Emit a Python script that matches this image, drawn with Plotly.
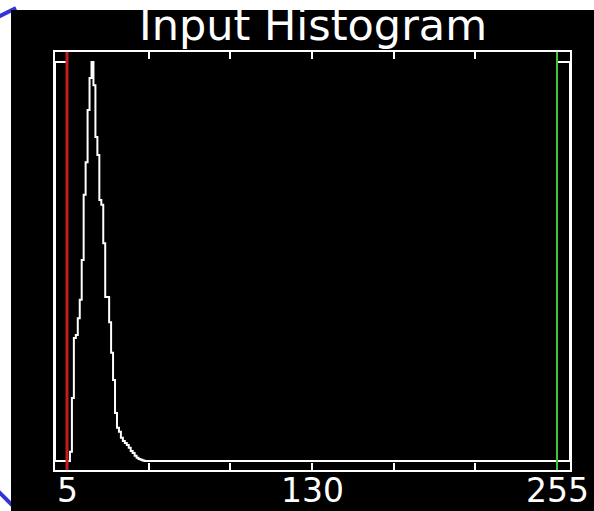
import plotly.graph_objects as go

# ---- data ----
title_text = "Input Histogram"
x_min_level = 5      # red threshold marker
x_max_level = 255    # green threshold marker
tick_values = [5, 46.67, 88.33, 130, 171.67, 213.33, 255]
tick_labels = ["5", "", "", "130", "", "", "255"]

# normalised histogram counts for grey levels 0..46 (peak = 1); remaining levels are 0
counts_low = [0, 0, 0, 0, 0, 0, 0, 0.023, 0.158, 0.308, 0.316, 0.358, 0.404, 0.504,
              0.667, 0.749, 0.880, 0.960, 1.000, 0.942, 0.812, 0.767, 0.654, 0.642,
              0.546, 0.411, 0.411, 0.348, 0.271, 0.203, 0.120, 0.083, 0.073, 0.058,
              0.050, 0.045, 0.040, 0.033, 0.025, 0.020, 0.013, 0.008, 0.005, 0.003,
              0.001, 0, 0]
levels = list(range(256))
counts = counts_low + [0] * (256 - len(counts_low))
peak = max(counts)

# ---- layout geometry ----
W, H = 594, 511
ML, MR, MT, MB = 55, 24, 52, 41
PW, PH = W - ML - MR, H - MT - MB
XR = [-1.12, 261.63]
YR = [-0.0226, 1.0251]


def px_x(p):
    return (p - ML) / PW


def px_y(p):
    return (H - MB - p) / PH


fig = go.Figure()
fig.add_trace(go.Scatter(
    x=levels, y=counts, mode="lines",
    line=dict(color="white", width=2, shape="hvh"),
    hoverinfo="skip", showlegend=False,
))

shapes = [
    # blue corner decorations (under the black panel)
    dict(type="line", xref="paper", yref="paper", layer="below",
         x0=px_x(-2), y0=px_y(17), x1=px_x(16), y1=px_y(8),
         line=dict(color="#3434d2", width=4)),
    dict(type="line", xref="paper", yref="paper", layer="below",
         x0=px_x(-2), y0=px_y(491), x1=px_x(18), y1=px_y(511),
         line=dict(color="#3434d2", width=4)),
    # black panel
    dict(type="rect", xref="paper", yref="paper", layer="below",
         x0=px_x(11), x1=px_x(620), y0=px_y(540), y1=px_y(10),
         fillcolor="black", line=dict(width=0)),
    # boxes outside thresholds
    dict(type="rect", xref="x", yref="y", layer="above",
         x0=XR[0], x1=x_min_level, y0=0, y1=peak,
         line=dict(color="white", width=2)),
    dict(type="rect", xref="x", yref="y", layer="above",
         x0=x_max_level, x1=XR[1], y0=0, y1=peak,
         line=dict(color="white", width=2)),
    # threshold markers
    dict(type="line", xref="x", yref="paper", layer="above",
         x0=x_min_level, x1=x_min_level, y0=0, y1=1,
         line=dict(color="#c41c1c", width=3)),
    dict(type="line", xref="x", yref="paper", layer="above",
         x0=x_max_level, x1=x_max_level, y0=0, y1=1,
         line=dict(color="#3cc23c", width=2)),
]

annotations = [dict(
    text=title_text, xref="paper", yref="paper",
    x=0.5, y=px_y(52), xanchor="center", yanchor="bottom",
    showarrow=False,
    font=dict(family="DejaVu Sans", size=43, color="white"),
)]
for tv, tl in zip(tick_values, tick_labels):
    if tl:
        annotations.append(dict(
            text=tl, xref="x", yref="paper", x=tv, y=px_y(490.5),
            xanchor="center", yanchor="middle", showarrow=False,
            font=dict(family="DejaVu Sans", size=33, color="white"),
        ))

fig.update_layout(
    width=W, height=H,
    autosize=False,
    margin=dict(l=ML, r=MR, t=MT, b=MB, pad=0, autoexpand=False),
    paper_bgcolor="white", plot_bgcolor="black",
    shapes=shapes,
    showlegend=False,
    annotations=annotations,
    xaxis=dict(range=XR, showgrid=False, zeroline=False, automargin=False,
               showline=True, linecolor="white", linewidth=2, mirror="ticks",
               ticks="inside", ticklen=7, tickwidth=2, tickcolor="white",
               tickmode="array", tickvals=tick_values, showticklabels=False),
    yaxis=dict(range=YR, showgrid=False, zeroline=False, automargin=False,
               showline=True, linecolor="white", linewidth=2, mirror=True,
               ticks="", showticklabels=False),
)

fig.write_html(
    "out.html",
    config={"displayModeBar": False, "staticPlot": True},
    post_script="document.body.style.margin='0';document.body.style.overflow='hidden';",
)
